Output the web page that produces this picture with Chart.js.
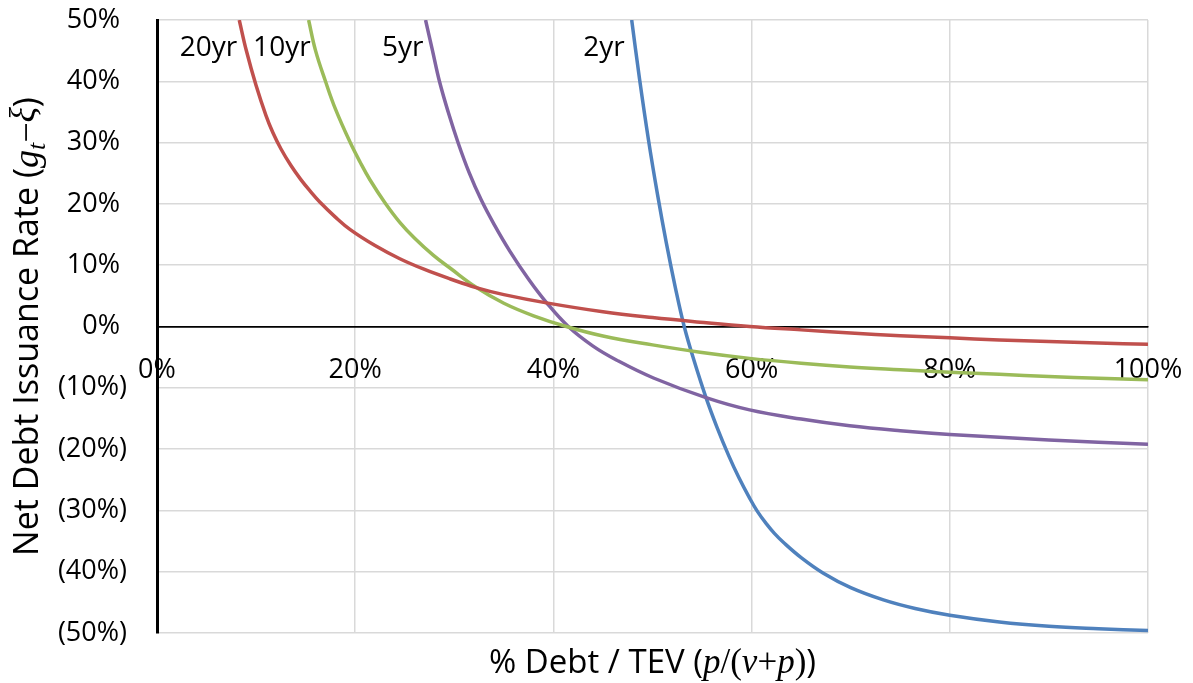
<!DOCTYPE html>
<html>
<head>
<meta charset="utf-8">
<script src="https://cdn.jsdelivr.net/npm/chart.js@4.4.1/dist/chart.umd.min.js"></script>
<style>
  html, body { margin: 0; padding: 0; background: #ffffff; }
  #wrap { width: 1193px; height: 683px; position: relative; }
</style>
</head>
<body>
<div id="wrap"><canvas id="chart"></canvas></div>
<script>
// ---------- data ----------
const seriesNames = ['20yr', '10yr', '5yr', '2yr'];

const x20yr = [8.3, 9, 10, 11, 11.7, 12.5, 13.5, 14.5, 15.5, 16.4, 18, 19.5, 22, 24.5, 27, 29.6, 32.2, 35, 39.3, 45, 50, 54.8, 59.8, 65, 70, 75, 80, 85, 90, 95, 100];
const y20yr = [50, 45.1, 39.3, 34.4, 31.6, 29.0, 26.3, 24.0, 22.0, 20.35, 17.85, 15.8, 13.2, 11.05, 9.3, 7.75, 6.35, 5.2, 3.85, 2.4, 1.45, 0.7, 0, -0.55, -1.05, -1.5, -1.85, -2.2, -2.45, -2.7, -2.9];

const x10yr = [15.3, 16, 17, 18, 19.5, 20.5, 21.5, 23, 24.5, 26, 27.9, 29.6, 32.2, 35, 38, 41.3, 45, 50, 54.8, 59.8, 65, 69.9, 75, 80, 85, 90, 95, 100];
const y10yr = [50, 45.0, 40, 35.5, 30, 26.8, 23.9, 20.2, 17.0, 14.4, 11.6, 9.5, 6.4, 3.8, 1.75, 0, -1.55, -3.0, -4.2, -5.2, -6.0, -6.6, -7.05, -7.45, -7.8, -8.15, -8.45, -8.7];

const x5yr = [27.1, 27.8, 28.5, 29.4, 30.4, 31.5, 32.7, 34, 35.6, 37.5, 39.3, 41.5, 44, 46.4, 50.1, 55.4, 59.8, 65, 69.9, 75, 80, 90, 100];
const y5yr = [50, 45, 40, 34.9, 29.9, 25.1, 20.7, 16.7, 12.3, 7.7, 3.9, 0, -3.2, -5.5, -8.4, -11.6, -13.6, -15.1, -16.2, -17.0, -17.6, -18.5, -19.2];

const x2yr = [47.9, 48.7, 49.6, 50.5, 51.4, 52.3, 53.2, 54.2, 55.4, 56.5, 57.7, 58.7, 59.8, 60.6, 61.5, 62.3, 63.2, 65, 67.2, 70, 73.3, 76.5, 80, 85, 90, 95, 100];
const y2yr = [50, 40.3, 30.4, 21.6, 13.6, 6.4, 0, -5.6, -11.6, -16.4, -21.1, -24.6, -28.0, -30.2, -32.2, -33.75, -35.2, -37.7, -40.2, -42.6, -44.6, -46.0, -47.1, -48.2, -48.9, -49.3, -49.6];

const xTicks = [0, 20, 40, 60, 80, 100];
const yTicks = [-50, -40, -30, -20, -10, 0, 10, 20, 30, 40, 50];

// label anchor points for the curve names (x %, y %)
const labelX = [5.2, 12.6, 24.8, 45.1];
const labelY = [45.5, 45.5, 45.5, 45.5];

const colors = ['#C0504D', '#9BBB59', '#8064A2', '#4F81BD'];

// ---------- build datasets ----------
function pts(xs, ys) { return xs.map((x, i) => ({ x: x, y: ys[i] })); }
const allX = [x20yr, x10yr, x5yr, x2yr];
const allY = [y20yr, y10yr, y5yr, y2yr];
const datasets = seriesNames.map((n, i) => ({
  label: n,
  data: pts(allX[i], allY[i]),
  borderColor: colors[i],
  backgroundColor: colors[i],
  borderWidth: 3.5,
  pointRadius: 0,
  pointHoverRadius: 0,
  fill: false,
  tension: 0.4
}));

const SANS = '"Open Sans", "Noto Sans", sans-serif';
const SERIF = '"Liberation Serif", "DejaVu Serif", serif';

function drawRuns(ctx, runs, cx, cy) {
  let total = 0;
  runs.forEach(r => { ctx.font = r.font; r.w = ctx.measureText(r.t).width; total += r.w; });
  let x = cx - total / 2;
  ctx.textAlign = 'left';
  ctx.textBaseline = 'alphabetic';
  runs.forEach(r => { ctx.font = r.font; ctx.fillText(r.t, x, cy + (r.dy || 0)); x += r.w; });
}

const textPlugin = {
  id: 'textPlugin',
  afterDraw(chart) {
    const ctx = chart.ctx;
    const xs = chart.scales.x, ys = chart.scales.y;
    const area = chart.chartArea;
    ctx.save();
    ctx.fillStyle = '#000';
    // curve name labels
    ctx.font = '28px ' + SANS;
    ctx.textAlign = 'center';
    ctx.textBaseline = 'middle';
    seriesNames.forEach((n, i) => {
      ctx.fillText(n, xs.getPixelForValue(labelX[i]), ys.getPixelForValue(labelY[i]));
    });
    // x title
    const fs = 33;
    const xRuns = [
      { t: '% Debt / TEV (', font: fs + 'px ' + SANS },
      { t: 'p', font: 'italic ' + (fs + 2) + 'px ' + SERIF },
      { t: '/(', font: (fs + 2) + 'px ' + SERIF },
      { t: 'v', font: 'italic ' + (fs + 2) + 'px ' + SERIF },
      { t: '+', font: (fs + 2) + 'px ' + SERIF },
      { t: 'p', font: 'italic ' + (fs + 2) + 'px ' + SERIF },
      { t: ')', font: (fs + 2) + 'px ' + SERIF },
      { t: ')', font: fs + 'px ' + SANS }
    ];
    drawRuns(ctx, xRuns, (area.left + area.right) / 2, 673);
    // y title (rotated)
    ctx.save();
    ctx.translate(38, (area.top + area.bottom) / 2);
    ctx.rotate(-Math.PI / 2);
    const yRuns = [
      { t: 'Net Debt Issuance Rate (', font: (fs + 1) + 'px ' + SANS },
      { t: 'g', font: 'italic ' + (fs + 3) + 'px ' + SERIF },
      { t: 't', font: 'italic ' + (fs - 7) + 'px ' + SERIF, dy: 7 },
      { t: '\u2212', font: (fs + 3) + 'px ' + SERIF },
      { t: '\u03BE', font: 'italic ' + (fs + 3) + 'px ' + SERIF, dy: -4 },
      { t: ')', font: (fs + 1) + 'px ' + SANS }
    ];
    drawRuns(ctx, yRuns, 0, 0);
    ctx.restore();
    ctx.restore();
  }
};

new Chart(document.getElementById('chart'), {
  type: 'line',
  data: { datasets: datasets },
  plugins: [textPlugin],
  options: {
    responsive: true,
    maintainAspectRatio: false,
    animation: false,
    events: [],
    layout: { padding: { left: 0, top: 20, right: 45, bottom: 50 } },
    plugins: { legend: { display: false }, tooltip: { enabled: false } },
    scales: {
      x: {
        type: 'linear',
        min: 0, max: 100,
        position: { y: 0 },
        afterBuildTicks: (s) => { s.ticks = xTicks.map(v => ({ value: v })); },
        afterFit: (s) => { s.paddingLeft = 0; s.paddingRight = 0; s.paddingTop = 0; s.paddingBottom = 0; },
        ticks: {
          callback: (v) => v + '%',
          font: { family: SANS, size: 27 },
          color: '#000',
          padding: 28,
          maxRotation: 0,
          autoSkip: false
        },
        grid: { color: '#d9d9d9', lineWidth: 1.5, drawTicks: false },
        border: { display: true, color: '#000', width: 1.5 }
      },
      y: {
        type: 'linear',
        min: -50, max: 50,
        position: 'left',
        afterBuildTicks: (s) => { s.ticks = yTicks.map(v => ({ value: v })); },
        afterFit: (s) => { s.width = 157; s.paddingTop = 0; s.paddingBottom = 0; },
        ticks: {
          callback: (v) => v < 0 ? '(' + (-v) + '%)' : v + '% ',
          font: { family: SANS, size: 27 },
          color: '#000',
          padding: 30,
          autoSkip: false
        },
        grid: {
          color: (c) => (c.tick && c.tick.value === 0) ? '#000' : '#d9d9d9',
          lineWidth: 1.5,
          drawTicks: false
        },
        border: { display: true, color: '#000', width: 3 }
      }
    }
  }
});
</script>
</body>
</html>
